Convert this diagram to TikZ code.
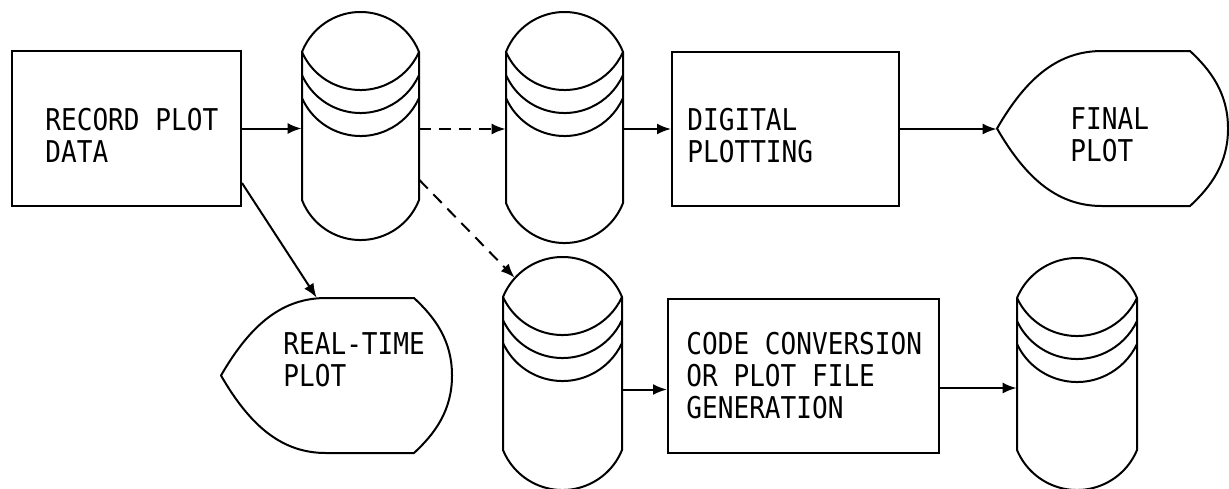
\documentclass[tikz,border=0pt]{standalone}
\usepackage{fontspec}
\newfontfamily\plotfont[FakeStretch=0.87]{DejaVu Sans Mono}
\usetikzlibrary{arrows.meta,calc,fit}
\tikzset{
  line/.style={line width=1pt, line join=round},
  procbox/.style={draw, line width=1pt, inner sep=0pt},
  ghost/.style={inner sep=0pt},
  arr/.style={line width=1pt, -{Latex[length=7pt,width=5.5pt]}},
  darr/.style={arr, dash pattern=on 6pt off 4pt},
  lbl/.style={inner sep=0pt, anchor=base west, align=left,
    font=\plotfont\fontsize{15pt}{16pt}\selectfont}
}
% drum (magnetic tape / disk) symbol: name, left x, right x, side top y, side bottom y
\newcommand{\drum}[5]{%
  \pgfmathsetmacro\dh{(#3-#2)/2}%
  \pgfmathsetmacro\dra{(\dh*\dh+40*40)/80}%
  \pgfmathsetmacro\dta{asin(\dh/\dra)}%
  \pgfmathsetmacro\drb{(\dh*\dh+38*38)/76}%
  \pgfmathsetmacro\dtb{asin(\dh/\drb)}%
  \draw[line] (#2,#4) arc[start angle=270-\dta, end angle=270+\dta, radius=\dra]
     -- (#3,#5) arc[start angle=90-\dta, end angle=90+\dta, radius=\dra] -- cycle;
  \foreach \k in {0,1,2}
    \draw[line] (#2,{#4+23*\k}) arc[start angle=90+\dtb, end angle=90-\dtb, radius=\drb];
  \node[ghost, fit={(#2,{#4-40}) (#3,{#5+40})}] (#1) {};
}
% display symbol: name, left tip x, centre y
\newcommand{\dispshape}[3]{%
  \draw[line] (#2,#3) .. controls ({#2+30},{#3-52}) and ({#2+62},{#3-77.5}) .. ({#2+105},{#3-77.5})
    -- ({#2+193},{#3-77.5}) .. controls ({#2+214},{#3-58}) and ({#2+231},{#3-35}) .. ({#2+231},#3)
    .. controls ({#2+231},{#3+35}) and ({#2+214},{#3+58}) .. ({#2+193},{#3+77.5})
    -- ({#2+105},{#3+77.5}) .. controls ({#2+62},{#3+77.5}) and ({#2+30},{#3+52}) .. cycle;
  \node[ghost, fit={(#2,{#3-77.5}) ({#2+231},{#3+77.5})}] (#1) {};
}
\begin{document}
\begin{tikzpicture}[x=0.5pt, y=-0.5pt]
\useasboundingbox (0,0) rectangle (1229,488);

% boxes
\node[procbox, fit={(12,51) (241,206)}] (box1) {};
\node[procbox, fit={(672,52) (899,206)}] (box2) {};
\node[procbox, fit={(668,299) (939,453)}] (box3) {};

% drums
\drum{cyl1}{302}{419}{52}{200}
\drum{cyl2}{506}{623}{52}{203}
\drum{cyl3}{503}{622}{297}{450}
\drum{cyl4}{1017}{1137}{298}{450}

% displays
\dispshape{fin}{997}{128.5}
\dispshape{rt}{221}{375.5}

% labels (anchored at the baseline of the last line)
\node[lbl] (t1) at (45,162) {RECORD PLOT\\DATA};
\node[lbl] (t2) at (687,162) {DIGITAL\\PLOTTING};
\node[lbl] (t3) at (1070,161) {FINAL\\PLOT};
\node[lbl] (t4) at (283,386) {REAL-TIME\\PLOT};
\node[lbl] (t5) at (686,418) {CODE CONVERSION\\OR PLOT FILE\\GENERATION};

% connectors
\draw[arr] (box1.east) -- (box1.east -| cyl1.west);
\draw[darr] (cyl1.east |- box2.west) -- (cyl2.west |- box2.west);
\draw[arr] (cyl2.east |- box2.west) -- (box2.west);
\draw[arr] (box2.east) -- (box2.east -| fin.west);
\draw[arr] ($(box1.south east)+(0,-24)$) -- ($(rt.north west)+(96,0)$);
\draw[darr] ($(cyl1.east)+(0,54)$) -- ($(cyl3.north west)+(12,21)$);
\coordinate (a3) at ($(cyl3.east)+(0,16)$);
\draw[arr] (a3) -- (a3 -| box3.west);
\coordinate (a4) at ($(box3.east)+(0,12)$);
\draw[arr] (a4) -- (a4 -| cyl4.west);
\end{tikzpicture}
\end{document}
